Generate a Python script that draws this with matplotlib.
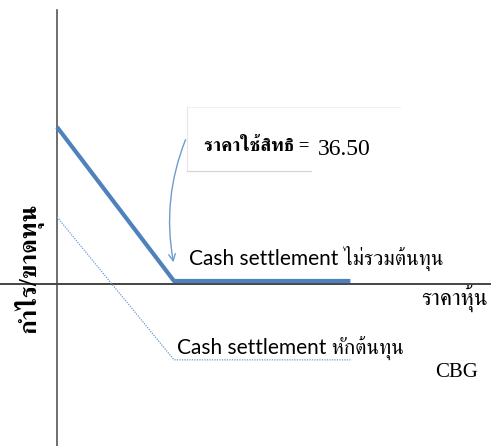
import matplotlib
matplotlib.use('Agg')
import matplotlib.pyplot as plt
from matplotlib import font_manager
from matplotlib.ft2font import FT2Font
from matplotlib.lines import Line2D
import matplotlib.transforms as mtransforms

# ---- data ----
strike = 36.50
price = [30.0, 36.5, 46.3]
payoff_gross = [6.5, 0.0, 0.0]     # Cash settlement ไม่รวมต้นทุน
payoff_net = [2.83, -3.2, -3.2]    # Cash settlement หักต้นทุน
y_axis_label = 'กำไร/ขาดทุน'
x_axis_label = 'ราคาหุ้น'
ticker = 'CBG'
strike_label = 'ราคาใช้สิทธิ = '
label_gross = 'Cash settlement ไม่รวมต้นทุน'
label_net = 'Cash settlement หักต้นทุน'

# ---- fonts ----
names = sorted({f.name for f in font_manager.fontManager.ttflist})
thai = set()
for f in font_manager.fontManager.ttflist:
    try:
        cm = FT2Font(f.fname).get_charmap()
        if ord('ก') in cm and ord('ุ') in cm:
            thai.add(f.name)
    except Exception:
        pass

def rank(n):
    if 'Serif' in n:
        return (0, n)
    if 'Looped' in n:
        return (1, n)
    return (2, n)

thai = sorted(thai, key=rank)
thai_font = thai[0] if thai else 'DejaVu Sans'
latin = 'Lato' if 'Lato' in names else 'Liberation Sans'
serif = 'Liberation Serif'

W, H = 491, 446
fig = plt.figure(figsize=(W / 100, H / 100), dpi=100)
ax = fig.add_axes([0, 0, 1, 1])
px_x, px_y = 18.0, 23.7
ax.set_xlim(30 - 57 / px_x, 30 + (W - 57) / px_x)
ax.set_ylim(-(H - 284) / px_y, 284 / px_y)
ax.set_xticks([]); ax.set_yticks([])

for s in ['top', 'right']:
    ax.spines[s].set_visible(False)
ax.spines['left'].set_position(('data', price[0]))
ax.spines['left'].set_bounds(ax.get_ylim()[0], (284 - 10) / px_y)
ax.spines['bottom'].set_position(('data', 0))
ax.spines['left'].set_color('#555555'); ax.spines['left'].set_linewidth(1.2)
ax.spines['bottom'].set_color('#444444'); ax.spines['bottom'].set_linewidth(1.4)

blue = '#4F81BD'
up = mtransforms.offset_copy(ax.transData, fig=fig, x=0, y=3, units='dots')
ax.plot(price, payoff_gross, color=blue, lw=3.0, transform=up, solid_capstyle='butt', zorder=3)
ax.plot(price, payoff_net, color='#6f9bd1', lw=0.9, ls=(0, (1, 1)), zorder=3)

def fx(x):
    return x / W
def fy(y):
    return 1 - y / H

# faint callout box for strike label
fig.lines.append(Line2D([fx(187), fx(400)], [fy(107), fy(107)], transform=fig.transFigure,
                        color='#f0f0f0', lw=0.8))
fig.lines.append(Line2D([fx(187), fx(187)], [fy(107), fy(171)], transform=fig.transFigure,
                        color='#e6e6e6', lw=0.8))
fig.lines.append(Line2D([fx(187), fx(311)], [fy(171), fy(171)], transform=fig.transFigure,
                        color='#d6d6d6', lw=0.9))

ax.annotate('', xy=(strike, 0.8), xytext=(37.2, 6.2),
            arrowprops=dict(arrowstyle='->', connectionstyle='arc3,rad=0.15',
                            color='#6f9bd1', lw=1.0, mutation_scale=12), zorder=4)

fig.text(fx(204), fy(151), strike_label, family=[serif, thai_font], fontsize=13.5,
         fontweight='bold', va='baseline')
fig.text(fx(318), fy(155), f'{strike:.2f}', family=[serif, thai_font], fontsize=17,
         va='baseline')
fig.text(fx(189), fy(265), label_gross, family=[latin, thai_font], fontsize=15,
         va='baseline')
fig.text(fx(177), fy(355), label_net, family=[latin, thai_font], fontsize=15,
         va='baseline')
fig.text(fx(421), fy(305), x_axis_label, family=[serif, thai_font], fontsize=16.5,
         va='baseline')
fig.text(fx(435), fy(377), ticker, family=[serif], fontsize=15, va='baseline')
fig.text(fx(29), fy(268), y_axis_label, family=[serif, thai_font], fontsize=18,
         fontweight='bold', rotation=90, ha='center', va='center')

fig.savefig('out.png', dpi=100)
